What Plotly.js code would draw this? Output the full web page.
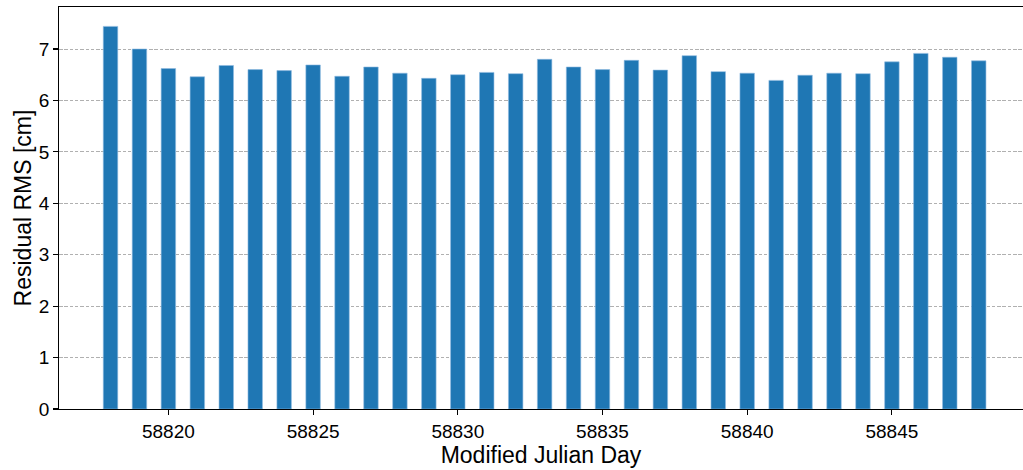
<!DOCTYPE html>
<html>
<head>
<meta charset="utf-8">
<script src="https://cdn.plot.ly/plotly-3.0.1.min.js"></script>
<style>html,body{margin:0;padding:0;background:#fff;}#chart{width:1023px;height:470px;}</style>
</head>
<body>
<div id="chart"></div>
<script>
const days = [58818,58819,58820,58821,58822,58823,58824,58825,58826,58827,58828,58829,58830,58831,58832,58833,58834,58835,58836,58837,58838,58839,58840,58841,58842,58843,58844,58845,58846,58847,58848];
const rms = [7.44,7.00,6.62,6.46,6.68,6.60,6.58,6.69,6.47,6.65,6.53,6.43,6.50,6.545,6.52,6.80,6.65,6.60,6.78,6.59,6.87,6.56,6.53,6.39,6.49,6.53,6.52,6.75,6.915,6.84,6.77];
const xTicks = [58820,58825,58830,58835,58840,58845];
const yTicks = [0,1,2,3,4,5,6,7];

const trace = {
  type: 'bar',
  x: days,
  y: rms,
  width: 0.5,
  marker: {color: '#1f77b4', line: {color: '#8fbbe0', width: 0.6}},
  hoverinfo: 'x+y'
};

const layout = {
  width: 1023, height: 470,
  margin: {l: 59, r: 0, t: 7, b: 61, pad: 0},
  paper_bgcolor: '#fff', plot_bgcolor: '#fff',
  font: {family: 'Liberation Sans, Arial, sans-serif', color: '#000', size: 19},
  showlegend: false,
  xaxis: {
    range: [58816.22, 58849.53],
    tickvals: xTicks, ticktext: xTicks.map(String),
    ticks: 'outside', ticklen: 4.5, tickwidth: 1.1, tickcolor: '#000',
    showline: true, linecolor: '#000', linewidth: 1.3, mirror: true,
    showgrid: false, zeroline: false,
    tickfont: {size: 19},
    title: {text: 'Modified Julian Day', font: {size: 23}, standoff: 4},
    automargin: false
  },
  yaxis: {
    range: [0, 7.817],
    tickvals: yTicks, ticktext: yTicks.map(String),
    ticks: 'outside', ticklen: 4.5, tickwidth: 1.1, tickcolor: '#000',
    showline: true, linecolor: '#000', linewidth: 1.3, mirror: false,
    showgrid: true, gridcolor: '#b0b0b0', griddash: '3.5px,1.8px', gridwidth: 1,
    zeroline: false,
    tickfont: {size: 19},
    title: {text: 'Residual RMS [cm]', font: {size: 23}, standoff: 0},
    automargin: false
  },
  bargap: 0
};

Plotly.newPlot('chart', [trace], layout, {displayModeBar: false, staticPlot: true});
</script>
</body>
</html>
